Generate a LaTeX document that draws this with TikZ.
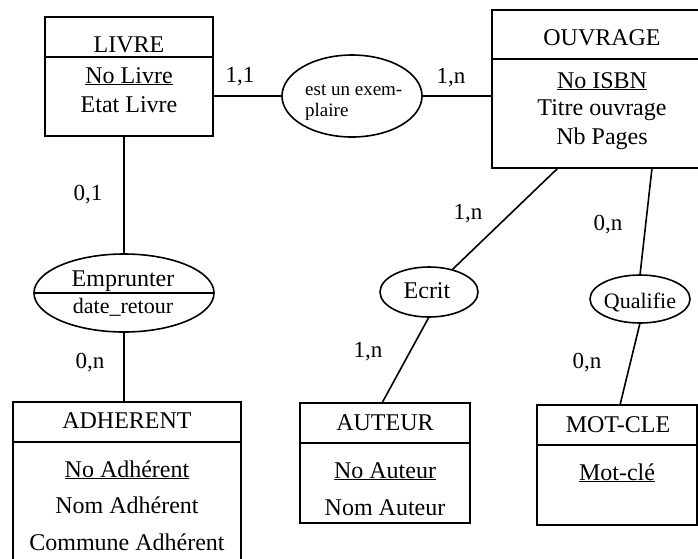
\documentclass[tikz,border=0pt]{standalone}
\usepackage{fontspec}
\setmainfont{Liberation Serif}
\usetikzlibrary{shapes.geometric}
\begin{document}
\begin{tikzpicture}[x=1pt,y=-1pt,
  ent/.style={draw, line width=1.8pt, inner sep=0pt, outer sep=0pt, anchor=north west},
  rel/.style={draw, ellipse, line width=1.6pt, inner sep=0pt, outer sep=0pt},
  lbl/.style={anchor=base, inner sep=0pt, font=\fontsize{24}{28}\selectfont},
  card/.style={anchor=base, inner sep=0pt, font=\fontsize{23}{27}\selectfont},
  link/.style={line width=1.6pt},
  sep/.style={line width=1.8pt}]
\useasboundingbox (0,0) rectangle (698,558);
\clip (0,0) rectangle (698,558);

% entities
\node[ent, minimum width=168pt, minimum height=119pt] (livre) at (45,17) {};
\draw[sep] (livre.west |- 0,57) -- (livre.east |- 0,57);
\node[ent, minimum width=220pt, minimum height=158pt] (ouvrage) at (492,10) {};
\draw[sep] (ouvrage.west |- 0,59) -- (ouvrage.east |- 0,59);
\node[ent, minimum width=228pt, minimum height=200pt] (adherent) at (13,402) {};
\draw[sep] (adherent.west |- 0,442) -- (adherent.east |- 0,442);
\node[ent, minimum width=170pt, minimum height=120pt] (auteur) at (300,403) {};
\draw[sep] (auteur.west |- 0,443) -- (auteur.east |- 0,443);
\node[ent, minimum width=160pt, minimum height=120pt] (motcle) at (537,405) {};
\draw[sep] (motcle.west |- 0,445) -- (motcle.east |- 0,445);

% relations
\node[rel, minimum width=140pt, minimum height=82pt] (exemp) at (352,96) {};
\node[rel, minimum width=180pt, minimum height=78pt] (emprunter) at (124,293) {};
\draw[link] (emprunter.west) -- (emprunter.east);
\node[rel, minimum width=98pt, minimum height=50pt] (ecrit) at (429,292) {};
\node[rel, minimum width=100pt, minimum height=48pt] (qualifie) at (640,299) {};

% texts
\node[lbl] (tlivre) at (129,52) {LIVRE};
\node[lbl] (tnolivre) at (129,83) {\underline{No Livre}};
\node[lbl] (tetat) at (129,112) {Etat Livre};
\node[lbl] (touv) at (602,45) {OUVRAGE};
\node[lbl] (tisbn) at (602,88) {\underline{No ISBN}};
\node[lbl] (ttitre) at (602,115) {Titre ouvrage};
\node[lbl] (tnb) at (602,144) {Nb Pages};
\node[lbl] (tadh) at (127,428) {ADHERENT};
\node[lbl] (tnoadh) at (127,477) {\underline{No Adhérent}};
\node[lbl] (tnomadh) at (127,513) {Nom Adhérent};
\node[lbl] (tcomm) at (127,550) {Commune Adhérent};
\node[lbl] (taut) at (385,430) {AUTEUR};
\node[lbl] (tnoaut) at (385,478) {\underline{No Auteur}};
\node[lbl] (tnomaut) at (385,515) {Nom Auteur};
\node[lbl] (tmc) at (618,432) {MOT-CLE};
\node[lbl] (tmotcle) at (617,480) {\underline{Mot-clé}};
\node[lbl] (temp) at (123,286) {Emprunter};
\node[lbl, font=\fontsize{22}{26}\selectfont] (tdate) at (123,313) {date\_retour};
\node[lbl] (tecrit) at (427,298) {Ecrit};
\node[lbl, font=\fontsize{22}{26}\selectfont] (tqual) at (640,308) {Qualifie};
\node[anchor=base west, inner sep=0pt, font=\fontsize{19}{22}\selectfont] (tex1) at (305,95) {est un exem-};
\node[anchor=base west, inner sep=0pt, font=\fontsize{19}{22}\selectfont] (tex2) at (305,116) {plaire};

% cardinalities
\node[card] (c1) at (240,82) {1,1};
\node[card] (c2) at (451,83) {1,n};
\node[card] (c3) at (88,200) {0,1};
\node[card] (c4) at (90,368) {0,n};
\node[card] (c5) at (468,219) {1,n};
\node[card] (c6) at (608,230) {0,n};
\node[card] (c7) at (368,357) {1,n};
\node[card] (c8) at (587,368) {0,n};

% connectors
\coordinate (o1) at (558,168);
\coordinate (o2) at (652,168);
\coordinate (a1) at (382,403);
\coordinate (m1) at (620,405);
\draw[link] (exemp.west -| livre.east) -- (exemp.west);
\draw[link] (exemp.east) -- (exemp.east -| ouvrage.west);
\draw[link] (emprunter.north |- livre.south) -- (emprunter.north);
\draw[link] (emprunter.south) -- (emprunter.south |- adherent.north);
\draw[link] (o1) -- (ecrit);
\draw[link] (ecrit.south) -- (a1);
\draw[link] (o2) -- (qualifie.north);
\draw[link] (qualifie.south) -- (m1);
\end{tikzpicture}
\end{document}
